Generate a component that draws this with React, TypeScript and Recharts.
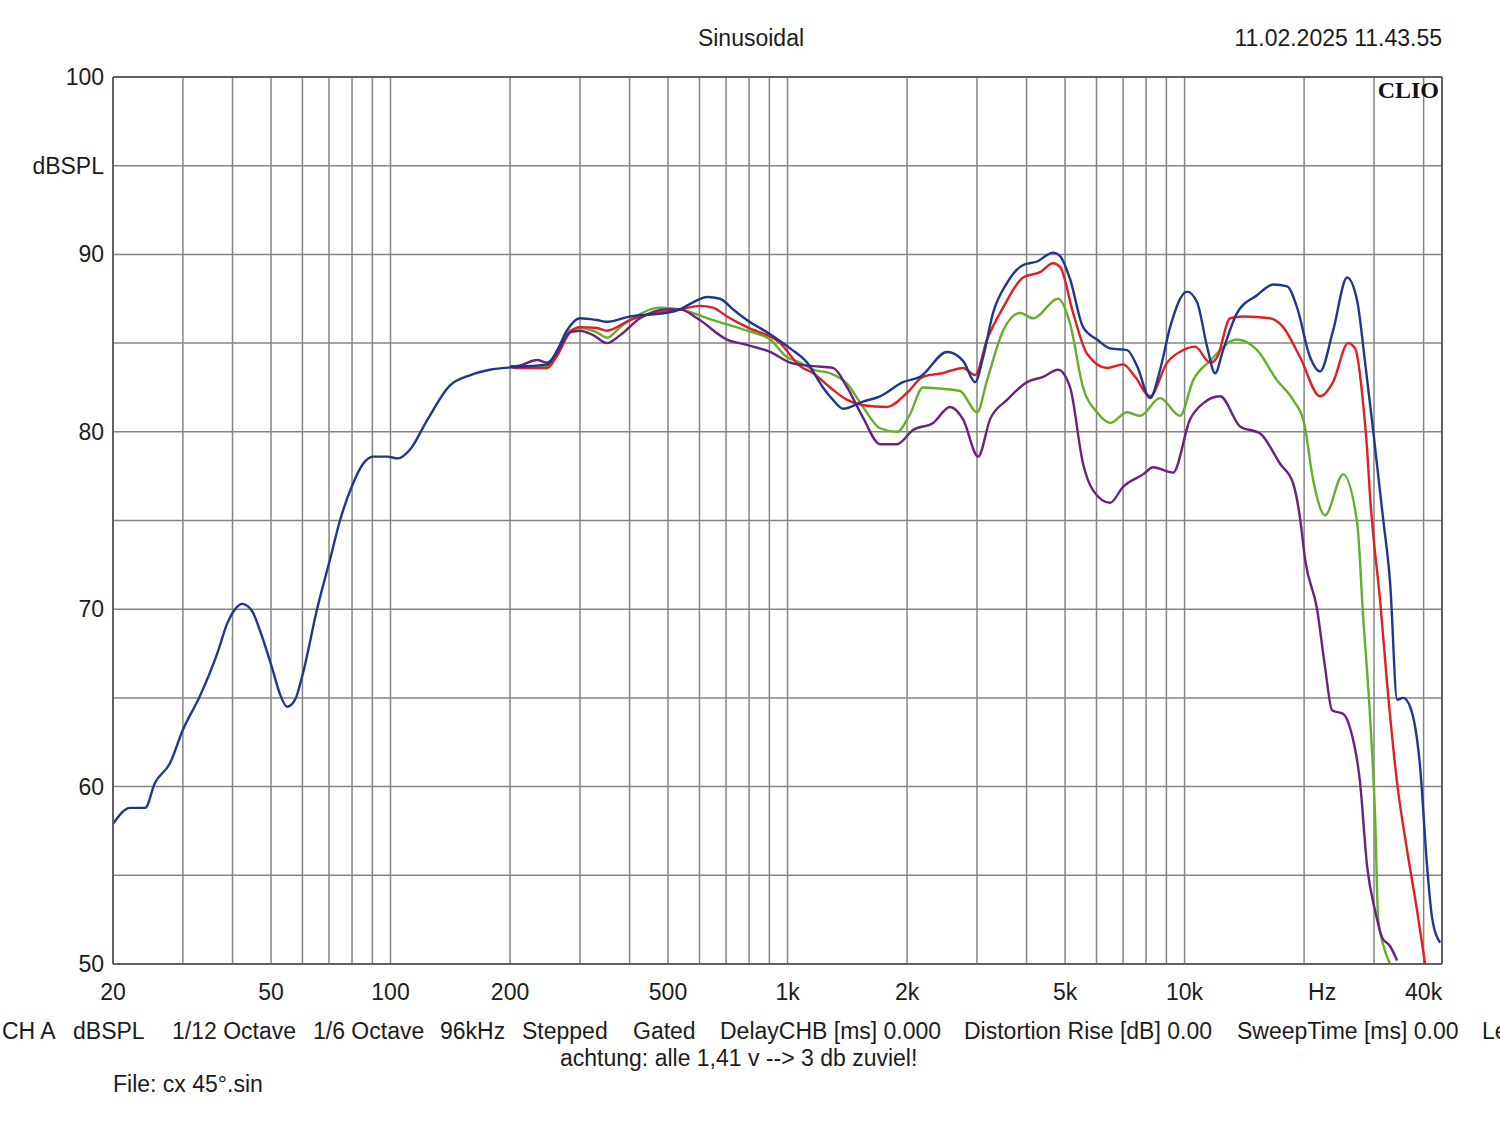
import React from 'react';
import { LineChart, Line, XAxis, YAxis, CartesianGrid, ReferenceLine } from 'recharts';

const FONT = '"Liberation Sans", Arial, Helvetica, sans-serif';

// frequency (Hz), level (dBSPL)
const blue: number[][] = [
  [20, 57.9], [22.1, 58.8], [24.1, 58.8], [25.5, 60.2], [27.8, 61.3], [30, 63.2], [33.1, 65.1], [36.6, 67.5],
  [38.8, 69.2], [40.6, 70.0], [42.3, 70.3], [44.8, 69.9], [46.9, 68.8], [50.3, 66.7], [52.7, 65.2], [54.9, 64.5],
  [57.5, 64.9], [60.2, 66.4], [65.3, 70.0], [70.4, 72.8], [74.6, 75.0], [80.5, 77.1], [85.3, 78.2], [90.4, 78.6],
  [98, 78.6], [104.5, 78.5], [112, 79.0], [124, 80.7], [141, 82.6], [159, 83.2], [178, 83.5], [207, 83.65],
  [248, 83.8], [263, 84.6], [278, 85.7], [300, 86.4], [331, 86.3], [351, 86.2], [401, 86.5], [497, 86.7],
  [536, 86.9], [578, 87.3], [627, 87.6], [676, 87.5], [729, 86.9], [790, 86.3], [904, 85.5], [1015, 84.7],
  [1120, 83.9], [1228, 82.5], [1302, 81.8], [1380, 81.3], [1549, 81.7], [1710, 82.0], [1954, 82.8], [2157, 83.1],
  [2522, 84.5], [2768, 84.0], [2968, 82.8], [3108, 84.2], [3293, 86.7], [3572, 88.4], [3920, 89.4], [4252, 89.6],
  [4663, 90.1], [4858, 89.9], [5148, 88.6], [5550, 85.9], [6020, 85.2], [6492, 84.7], [7168, 84.6], [7593, 83.7],
  [8188, 81.9], [8677, 83.5], [9195, 85.9], [10146, 87.9], [10752, 87.3], [11394, 84.8], [11936, 83.3], [12504, 84.6],
  [13562, 86.7], [15228, 87.7], [16710, 88.3], [18124, 88.2], [19206, 87.0], [20708, 84.2], [21944, 83.4], [23660, 85.7],
  [25664, 88.7], [27198, 87.4], [28492, 83.9], [29844, 80.1], [31626, 75.1], [32936, 71.5], [34306, 64.9], [35520, 65.0],
  [36986, 64.5], [39198, 61.1], [40820, 55.5], [42020, 52.6], [44020, 51.2],
];

const red: number[][] = [
  [200, 83.7], [207, 83.6], [248, 83.6], [263, 84.3], [283, 85.6], [300, 85.9], [331, 85.85], [351, 85.7],
  [401, 86.3], [443, 86.6], [536, 86.9], [602, 87.1], [649, 87.0], [704, 86.5], [790, 85.9], [958, 85.0],
  [1075, 83.7], [1160, 83.3], [1280, 82.5], [1413, 81.8], [1549, 81.5], [1781, 81.4], [2000, 82.2], [2193, 83.1],
  [2450, 83.3], [2768, 83.6], [2968, 83.2], [3180, 85.2], [3490, 87.0], [3920, 88.7], [4327, 89.0], [4663, 89.5],
  [4858, 89.3], [5238, 86.7], [5680, 84.4], [6380, 83.6], [7000, 83.8], [7506, 83.1], [8188, 82.0], [9036, 83.9],
  [9914, 84.6], [10628, 84.8], [11594, 83.9], [12076, 84.2], [13022, 86.4], [14042, 86.5], [16422, 86.4], [17708, 85.9],
  [19544, 84.2], [21944, 82.0], [23660, 82.8], [25814, 85.0], [26886, 84.7], [28164, 81.6], [28824, 79.0], [29328, 76.3],
  [29844, 74.3], [31080, 70.5], [32370, 65.8], [34306, 60.2], [36352, 56.4], [38518, 53.0], [40352, 50.0],
];

const green: number[][] = [
  [200, 83.7], [207, 83.7], [248, 83.7], [263, 84.4], [283, 85.7], [300, 85.85], [331, 85.6], [351, 85.3],
  [379, 85.9], [401, 86.3], [477, 87.0], [536, 86.9], [649, 86.3], [790, 85.7], [904, 85.2], [998, 84.2],
  [1075, 83.9], [1160, 83.5], [1280, 83.3], [1413, 82.7], [1549, 81.4], [1710, 80.2], [1888, 80.0], [2035, 81.0],
  [2193, 82.5], [2522, 82.4], [2720, 82.3], [3003, 81.1], [3180, 82.9], [3490, 85.7], [3853, 86.7], [4154, 86.4],
  [4802, 87.5], [5148, 86.1], [5550, 82.5], [6020, 81.1], [6492, 80.5], [7168, 81.1], [7726, 80.9], [8677, 81.9],
  [9744, 80.9], [10506, 82.9], [11594, 84.0], [13562, 85.2], [15228, 84.6], [17102, 82.9], [18766, 81.8], [20000, 80.5],
  [21072, 77.3], [22592, 75.3], [25074, 77.6], [27198, 74.9], [28164, 69.6], [29328, 63.9], [30192, 58.3], [30724, 52.6],
  [31626, 51.1], [32936, 50.0],
];

const purple: number[][] = [
  [200, 83.7], [207, 83.7], [234, 84.05], [248, 83.9], [263, 84.5], [283, 85.6], [300, 85.7], [324, 85.45],
  [351, 85.0], [379, 85.45], [425, 86.4], [497, 86.9], [536, 86.9], [592, 86.4], [704, 85.2], [790, 84.9],
  [904, 84.5], [1015, 83.9], [1160, 83.7], [1302, 83.6], [1413, 82.5], [1549, 80.8], [1710, 79.3], [1888, 79.3],
  [2070, 80.1], [2326, 80.5], [2566, 81.4], [2768, 80.7], [3020, 78.6], [3236, 80.7], [3572, 81.8], [4011, 82.8],
  [4402, 83.1], [4802, 83.5], [5148, 82.5], [5550, 78.2], [5881, 76.7], [6492, 76.0], [7000, 76.9], [7862, 77.6],
  [8332, 78.0], [9354, 77.7], [10324, 80.7], [11132, 81.6], [12286, 82.0], [13800, 80.3], [15496, 79.9], [17400, 78.2],
  [18766, 77.1], [19544, 75.1], [20116, 72.8], [21566, 70.0], [22592, 66.7], [23526, 64.3], [25074, 64.1], [26116, 63.3],
  [27678, 60.2], [28824, 55.5], [30192, 53.0], [31444, 51.5], [32936, 51.0], [34306, 50.2],
];

const xTicks = [20, 30, 40, 50, 60, 70, 80, 90, 100, 200, 300, 400, 500, 600, 700, 800, 900, 1000,
  2000, 3000, 4000, 5000, 6000, 7000, 8000, 9000, 10000, 20000, 30000, 40000];
const xTickLabels: Record<number, string> = {
  20: '20', 50: '50', 100: '100', 200: '200', 500: '500', 1000: '1k', 2000: '2k', 5000: '5k',
  10000: '10k', 20000: 'Hz', 40000: '40k',
};
const yTicks = [50, 55, 60, 65, 70, 75, 80, 85, 90, 95, 100];
const yTickLabels: Record<number, string> = {
  50: '50', 60: '60', 70: '70', 80: '80', 90: '90', 95: 'dBSPL', 100: '100',
};
const yMinorTicks = Array.from({ length: 51 }, (_, i) => 50 + i);

const bottomLine1: [number, string][] = [
  [2, 'CH A'], [73, 'dBSPL'], [172, '1/12 Octave'], [313, '1/6 Octave'], [440, '96kHz'], [522, 'Stepped'],
  [633, 'Gated'], [720, 'DelayCHB [ms] 0.000'], [964, 'Distortion Rise [dB] 0.00'], [1237, 'SweepTime [ms] 0.00'], [1482, 'Le'],
];

const toData = (arr: number[][]) => arr.map(([f, db]) => ({ f, db }));

const TEXT = '#1c1c1c';
const BORDER = '#606060';

const XTick = (props: any) => {
  const { x, y, payload } = props;
  const label = xTickLabels[payload.value];
  if (!label) return <g />;
  const dx = label === 'Hz' ? 18 : 0;
  return (
    <text x={x + dx} y={y + 36} textAnchor="middle" fontSize={23} fontFamily={FONT} fill={TEXT}>
      {label}
    </text>
  );
};

const YTick = (props: any) => {
  const { x, y, payload } = props;
  const label = yTickLabels[payload.value];
  if (!label) return <g />;
  return (
    <text x={x - 9} y={y + 8} textAnchor="end" fontSize={23} fontFamily={FONT} fill={TEXT}>
      {label}
    </text>
  );
};

const MinorLeft = (props: any) => {
  const { x, y } = props;
  return <line x1={x + 1} x2={x + 7} y1={y} y2={y} stroke={BORDER} strokeWidth={1.5} />;
};
const MinorRight = (props: any) => {
  const { x, y } = props;
  return <line x1={x - 6} x2={x} y1={y} y2={y} stroke={BORDER} strokeWidth={1.5} />;
};

export default function App() {
  return (
    <div style={{ position: 'absolute', left: 0, top: 0, width: 1500, height: 1121, background: '#fff' }}>
      <LineChart width={1500} height={1121} margin={{ top: 77, left: 111, right: 57, bottom: 156 }}>
        <CartesianGrid stroke="#858585" strokeWidth={1.5} />
        <XAxis
          dataKey="f"
          type="number"
          scale="log"
          domain={[20, 44500]}
          allowDataOverflow
          ticks={xTicks}
          interval={0}
          height={1}
          tickSize={0}
          tickMargin={0}
          tickLine={false}
          tick={XTick}
          axisLine={{ stroke: BORDER, strokeWidth: 2 }}
        />
        <YAxis
          type="number"
          domain={[50, 100]}
          allowDataOverflow
          ticks={yTicks}
          interval={0}
          width={1}
          tickSize={0}
          tickMargin={0}
          tickLine={false}
          tick={YTick}
          axisLine={{ stroke: BORDER, strokeWidth: 2 }}
        />
        <YAxis
          yAxisId="minorL"
          type="number"
          domain={[50, 100]}
          ticks={yMinorTicks}
          interval={0}
          width={1}
          tickSize={0}
          tickMargin={0}
          tickLine={false}
          tick={MinorLeft}
          axisLine={false}
        />
        <YAxis
          yAxisId="minorR"
          orientation="right"
          type="number"
          domain={[50, 100]}
          ticks={yMinorTicks}
          interval={0}
          width={1}
          tickSize={0}
          tickMargin={0}
          tickLine={false}
          tick={MinorRight}
          axisLine={{ stroke: BORDER, strokeWidth: 2 }}
        />
        <ReferenceLine y={100} stroke={BORDER} strokeWidth={2} />
        <Line data={toData(green)} dataKey="db" type="monotone" stroke="#66ae2c" strokeWidth={2.4} dot={false} isAnimationActive={false} />
        <Line data={toData(red)} dataKey="db" type="monotone" stroke="#df1f24" strokeWidth={2.4} dot={false} isAnimationActive={false} />
        <Line data={toData(purple)} dataKey="db" type="monotone" stroke="#68227f" strokeWidth={2.4} dot={false} isAnimationActive={false} />
        <Line data={toData(blue)} dataKey="db" type="monotone" stroke="#1f378c" strokeWidth={2.4} dot={false} isAnimationActive={false} />
      </LineChart>
      <svg width={1500} height={1121} style={{ position: 'absolute', left: 0, top: 0, pointerEvents: 'none' }}>
        <g fontFamily={FONT} fontSize={23} fill={TEXT}>
          <text x={751} y={46} textAnchor="middle">Sinusoidal</text>
          <text x={1442} y={46} textAnchor="end">11.02.2025 11.43.55</text>
          {bottomLine1.map(([x, t]) => (
            <text key={t} x={x} y={1039}>{t}</text>
          ))}
          <text x={560} y={1066}>achtung: alle 1,41 v --&gt; 3 db zuviel!</text>
          <text x={113} y={1092}>File: cx 45°.sin</text>
        </g>
        <text x={1439} y={98} textAnchor="end" fontFamily='"Liberation Serif", "Times New Roman", serif' fontWeight="bold" fontSize={24} fill="#111">
          CLIO
        </text>
      </svg>
    </div>
  );
}
